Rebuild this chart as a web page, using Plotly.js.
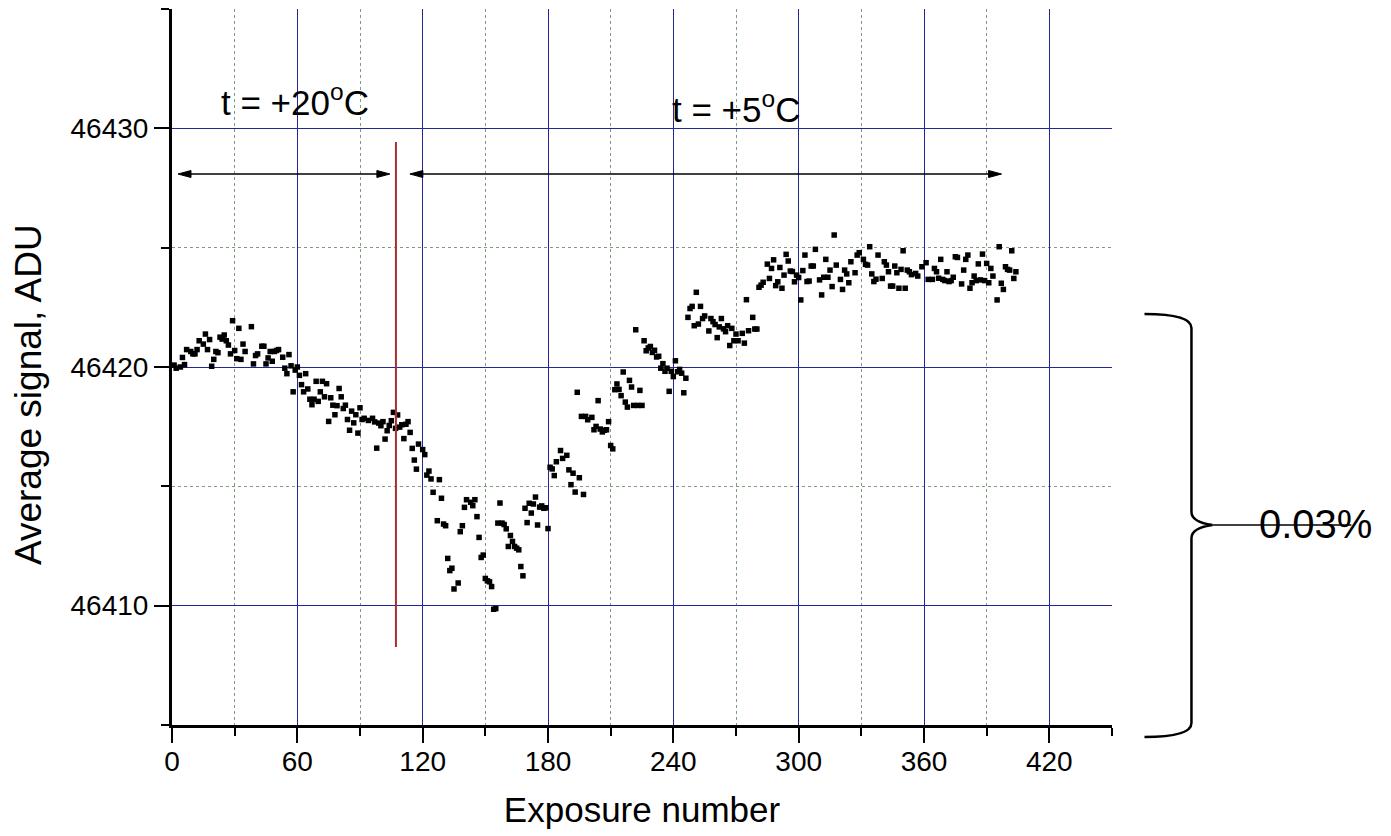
<!DOCTYPE html>
<html>
<head>
<meta charset="utf-8">
<script src="https://cdn.plot.ly/plotly-3.0.1.min.js"></script>
<style>html,body{margin:0;padding:0;background:#fff;}#chart{width:1391px;height:836px;}</style>
</head>
<body>
<div id="chart"></div>
<script>
// Exposure numbers
const exposure = [
1,2,4,5,6,7,9,10,11,12,13,15,16,17,18,19,20,21,22,23,24,25,26,27,28,29,30,31,32,33,34,35,38,39,40,41,43,44,45,46,47,48,49,50,51,53,54,55,56,57,58,59,
60,61,62,63,64,65,66,67,68,69,70,71,72,73,74,75,76,77,78,79,80,81,82,83,84,85,86,87,88,89,90,91,92,94,96,97,98,99,
100,101,102,103,104,105,106,107,108,109,110,111,112,113,114,115,116,117,118,120,121,122,123,124,125,127,128,129,130,131,132,133,134,135,137,138,139,
140,141,143,144,145,146,147,148,149,150,151,152,153,154,155,156,157,158,159,160,161,162,163,164,165,166,167,168,169,170,171,172,173,174,175,176,177,178,179,
180,181,182,183,184,186,187,189,190,191,192,193,194,195,196,197,198,199,201,202,203,204,205,206,207,208,209,210,211,212,213,214,215,216,217,218,219,
220,221,222,223,224,225,226,227,228,229,230,231,232,233,234,235,236,237,238,239,240,241,242,243,244,245,246,247,248,249,250,251,252,253,254,255,257,258,259,
260,261,262,263,264,265,266,267,268,269,270,271,273,274,275,276,278,279,280,281,282,283,285,286,287,288,289,290,291,292,293,294,295,296,297,298,299,
300,301,302,303,304,305,306,307,308,310,311,312,313,314,315,316,317,318,320,321,322,323,324,325,327,328,329,331,332,333,334,335,336,337,338,
340,341,342,343,344,345,346,347,348,349,350,351,352,353,354,356,357,359,361,362,364,365,366,367,368,369,370,371,372,373,374,375,376,378,379,
380,381,382,383,384,385,386,387,388,389,390,391,392,393,395,396,397,398,399,400,401,402,403,404
];
// Average signal, ADU
const signal = [
46420.08,46419.95,46420.0,46420.4,46420.1,46420.73,46420.65,46420.55,46420.55,46420.73,46421.1,46420.96,46421.38,46420.73,46421.15,46420.03,46420.32,46420.65,46420.6,46421.25,46421.17,46421.34,46421.1,46420.92,46420.55,46421.94,46420.69,46420.35,46421.62,46420.32,46420.96,46420.65,46421.69,46420.13,46420.48,46420.55,46420.87,46420.87,46420.13,46420.38,46420.65,46420.24,46420.65,46420.69,46420.73,46420.41,46419.95,46419.72,46420.52,46420.05,46418.96,46419.87,
46420.0,46419.65,46419.26,46418.96,46419.72,46419.08,46418.65,46418.42,46418.65,46419.4,46418.56,46418.96,46419.4,46418.75,46419.3,46417.72,46418.71,46418.4,46418.0,46418.38,46419.1,46418.75,46418.26,46418.4,46417.8,46417.35,46418.15,46417.66,46418.0,46417.23,46418.29,46417.8,46417.85,46417.76,46417.85,46417.7,46416.6,46417.65,
46417.54,46417.71,46416.98,46417.33,46417.55,46417.75,46418.1,46417.43,46417.99,46417.48,46417.58,46417.0,46417.6,46417.71,46417.26,46416.59,46416.1,46415.72,46416.77,46416.54,46416.33,46415.47,46415.64,46415.31,46414.75,46413.56,46415.28,46414.5,46413.42,46413.35,46411.98,46411.47,46411.57,46410.7,46410.95,46413.1,46413.35,
46414.12,46414.44,46414.33,46414.19,46414.44,46413.73,46412.86,46412.02,46412.12,46411.14,46411.04,46411.0,46410.8,46409.85,46409.88,46413.46,46414.3,46413.46,46413.4,46413.22,46412.48,46412.94,46412.69,46412.48,46412.41,46412.34,46411.64,46411.25,46414.08,46413.48,46414.29,46413.88,46414.26,46414.55,46413.38,46414.13,46414.18,46414.08,46414.1,
46413.23,46415.8,46415.73,46415.45,46416.03,46416.5,46416.17,46416.3,46415.69,46415.07,46415.55,46414.76,46418.94,46415.36,46417.93,46414.66,46417.93,46417.79,46417.89,46417.37,46417.51,46418.59,46417.4,46417.28,46417.35,46417.37,46417.71,46416.71,46416.57,46419.05,46419.29,46419.06,46418.8,46419.79,46418.53,46418.32,46419.44,
46419.16,46418.39,46421.56,46418.39,46419.02,46418.39,46421.1,46420.68,46420.8,46420.86,46420.61,46420.7,46420.42,46420.45,46419.95,46420.14,46419.82,46419.95,46418.98,46419.82,46419.6,46420.26,46419.8,46419.9,46419.74,46418.92,46419.53,46422.08,46422.45,46422.54,46421.73,46423.13,46421.8,46422.54,46422.03,46422.14,46421.51,46422.03,46421.9,
46421.78,46421.23,46421.68,46422.03,46421.6,46421.48,46421.73,46420.9,46421.62,46421.1,46421.38,46421.1,46421.41,46421.0,46422.82,46421.52,46422.08,46421.59,46421.59,46423.34,46423.43,46423.55,46424.31,46423.71,46424.13,46424.49,46423.41,46423.57,46424.17,46423.3,46423.85,46424.72,46424.44,46424.02,46424.0,46423.57,46423.85,
46423.75,46422.81,46424.04,46424.69,46423.58,46423.6,46424.23,46424.23,46424.93,46423.65,46423.02,46423.76,46424.51,46423.76,46424.06,46423.37,46425.53,46424.27,46423.67,46423.25,46424.06,46423.9,46423.53,46424.41,46423.95,46424.69,46424.79,46424.51,46424.3,46424.27,46425.04,46423.9,46423.58,46423.68,46424.69,
46423.71,46424.41,46424.27,46423.99,46423.39,46423.39,46424.23,46423.95,46423.3,46424.09,46424.87,46423.3,46424.06,46423.99,46423.87,46423.92,46423.81,46424.2,46424.37,46423.67,46423.67,46424.13,46423.99,46423.72,46424.51,46423.67,46423.62,46423.99,46423.58,46423.62,46423.76,46424.62,46424.59,46423.48,46424.06,
46424.51,46424.69,46423.3,46423.53,46423.81,46423.62,46424.32,46423.65,46424.73,46423.62,46424.34,46423.53,46424.13,46423.81,46422.81,46425.04,46423.51,46423.25,46424.2,46424.09,46424.06,46424.87,46423.71,46423.99
];
const xTickVals = [0,60,120,180,240,300,360,420];
const xMinorVals = [30,90,150,210,270,330,390,450];
const yTickVals = [46410,46420,46430];
const yMinorVals = [46405,46415,46425,46435];
const regionLabels = ['t = +20<sup>o</sup>C', 't = +5<sup>o</sup>C'];
const spanLabel = '0.03%';
const xTitle = 'Exposure number';
const yTitle = 'Average signal, ADU';

// Layout geometry (pixels)
const W = 1391, H = 836;
const L = 172, R = 1112.5, T = 9, B = 725;
const px = v => +((v - L) / (R - L)).toFixed(5);
const py = v => +((B - v) / (B - T)).toFixed(5);
const P = (x, y) => px(x) + ',' + py(y);
const bracePath = 'M' + P(1145,314) + ' Q' + P(1192,314) + ' ' + P(1192,328) +
  ' L' + P(1192,512) + ' Q' + P(1192,522) + ' ' + P(1213,525) +
  ' Q' + P(1192,528) + ' ' + P(1192,538) + ' L' + P(1192,723) +
  ' Q' + P(1192,737) + ' ' + P(1145,737);
const braceLine = 'M' + P(1213,525) + ' L' + P(1352,525);

// double-headed arrows (pixel geometry)
function arrowShapes(x0, x1, y) {
  const hl = 13, hw = 3.5;
  return [
    {type: 'path', xref: 'paper', yref: 'paper', path: 'M' + P(x0 + 4, y) + ' L' + P(x1 - 4, y),
     line: {color: '#000', width: 1.5}},
    {type: 'path', xref: 'paper', yref: 'paper',
     path: 'M' + P(x0, y) + ' L' + P(x0 + hl, y - hw) + ' L' + P(x0 + hl, y + hw) + ' Z',
     fillcolor: '#000', line: {color: '#000', width: 1}},
    {type: 'path', xref: 'paper', yref: 'paper',
     path: 'M' + P(x1, y) + ' L' + P(x1 - hl, y - hw) + ' L' + P(x1 - hl, y + hw) + ' Z',
     fillcolor: '#000', line: {color: '#000', width: 1}}
  ];
}

const tickFont = {family: '"Liberation Sans", Arial, sans-serif', size: 28, color: '#000'};
const titleFont = {family: '"Liberation Sans", Arial, sans-serif', size: 35, color: '#000'};
const majorGrid = '#25259a';
const minorGrid = '#7f9c7f';

const trace = {
  x: exposure, y: signal, type: 'scatter', mode: 'markers',
  marker: {symbol: 'square', size: 5.5, color: '#000', line: {width: 0}},
  hoverinfo: 'x+y', showlegend: false
};

const layout = {
  width: W, height: H,
  margin: {l: L, r: W - R, t: T, b: H - B, pad: 0},
  paper_bgcolor: '#fff', plot_bgcolor: '#fff',
  showlegend: false,
  xaxis: {
    range: [0, 450], tickmode: 'array', tickvals: xTickVals, tickformat: 'd',
    ticks: 'outside', ticklen: 15, tickwidth: 2, tickcolor: '#000',
    showline: true, linewidth: 3, linecolor: '#000', zeroline: false,
    showgrid: true, gridcolor: majorGrid, gridwidth: 1,
    minor: {tickmode: 'array', tickvals: xMinorVals, ticks: 'outside', ticklen: 8, tickwidth: 2, tickcolor: '#000',
            showgrid: true, gridcolor: minorGrid, griddash: 'dot', gridwidth: 1},
    tickfont: tickFont, ticklabelstandoff: -6,
    title: {text: xTitle, font: titleFont, standoff: 22}
  },
  yaxis: {
    range: [46405, 46435], tickmode: 'array', tickvals: yTickVals, tickformat: 'd',
    ticks: 'outside', ticklen: 15, tickwidth: 2, tickcolor: '#000',
    showline: true, linewidth: 3, linecolor: '#000', zeroline: false,
    showgrid: true, gridcolor: majorGrid, gridwidth: 1,
    minor: {tickmode: 'array', tickvals: yMinorVals, ticks: 'outside', ticklen: 8, tickwidth: 2, tickcolor: '#000',
            showgrid: true, gridcolor: minorGrid, griddash: 'dot', gridwidth: 1},
    tickfont: tickFont
  },
  shapes: [
    {type: 'line', xref: 'x', yref: 'y', x0: 107.2, x1: 107.2, y0: 46408.27, y1: 46429.43,
     line: {color: '#a83030', width: 2}},
    {type: 'path', xref: 'paper', yref: 'paper', path: bracePath, line: {color: '#000', width: 2.5}},
    {type: 'path', xref: 'paper', yref: 'paper', path: braceLine, line: {color: '#000', width: 1.5}}
  ].concat(arrowShapes(178, 390, 174), arrowShapes(410, 1002, 174)),
  annotations: [
    {x: px(28), y: py(395), xref: 'paper', yref: 'paper', xanchor: 'center', yanchor: 'middle',
     text: yTitle, textangle: -90, showarrow: false, font: {family: titleFont.family, size: 37, color: '#000'}},
    {x: 58.9, y: 46431.2, xref: 'x', yref: 'y', xanchor: 'center', yanchor: 'middle', text: regionLabels[0], showarrow: false,
     font: {family: '"Liberation Sans", Arial, sans-serif', size: 35, color: '#000'}},
    {x: 269.9, y: 46430.9, xref: 'x', yref: 'y', xanchor: 'center', yanchor: 'middle', text: regionLabels[1], showarrow: false,
     font: {family: '"Liberation Sans", Arial, sans-serif', size: 35, color: '#000'}},
    {x: px(1316), y: py(524), xref: 'paper', yref: 'paper', xanchor: 'center', yanchor: 'middle',
     text: spanLabel, showarrow: false,
     font: {family: '"Liberation Sans", Arial, sans-serif', size: 40, color: '#000'}}
  ]
};

Plotly.newPlot('chart', [trace], layout, {displayModeBar: false, staticPlot: true});
</script>
</body>
</html>
